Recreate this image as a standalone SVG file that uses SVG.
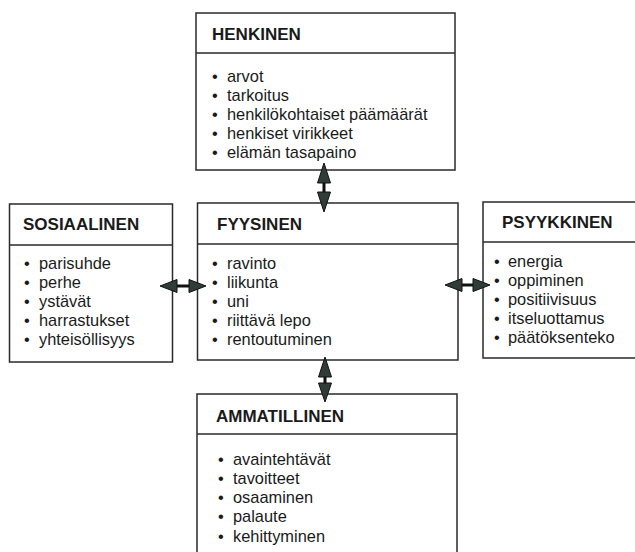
<svg xmlns="http://www.w3.org/2000/svg" width="635" height="552" viewBox="0 0 635 552">
<style>
.box{fill:#fff;stroke:#2a2a2a;stroke-width:1.5}
.sep{stroke:#2a2a2a;stroke-width:1.5}
.t{font-family:"Liberation Sans",Arial,sans-serif;font-size:17px;font-weight:bold;fill:#1a1a1a}
.i{font-family:"Liberation Sans",Arial,sans-serif;font-size:16.4px;fill:#1a1a1a}
.head{fill:#2f3c37;stroke:#111;stroke-width:1}
.shaft{fill:#111}
</style>
<rect width="635" height="552" fill="#fff"/>
<g id="henkinen">
<rect class="box" x="196" y="13" width="259" height="157"/>
<line class="sep" x1="196" y1="53" x2="455" y2="53"/>
<text class="t" x="212" y="40">HENKINEN</text>
<text class="i" x="212" y="82">•<tspan x="227">arvot</tspan></text>
<text class="i" x="212" y="101">•<tspan x="227">tarkoitus</tspan></text>
<text class="i" x="212" y="120">•<tspan x="227">henkilökohtaiset päämäärät</tspan></text>
<text class="i" x="212" y="139">•<tspan x="227">henkiset virikkeet</tspan></text>
<text class="i" x="212" y="158">•<tspan x="227">elämän tasapaino</tspan></text>
</g>
<g id="sosiaalinen">
<rect class="box" x="9.5" y="204" width="163" height="158"/>
<line class="sep" x1="9.5" y1="245" x2="172.5" y2="245"/>
<text class="t" x="23" y="230">SOSIAALINEN</text>
<text class="i" x="24" y="269">•<tspan x="39">parisuhde</tspan></text>
<text class="i" x="24" y="288">•<tspan x="39">perhe</tspan></text>
<text class="i" x="24" y="307">•<tspan x="39">ystävät</tspan></text>
<text class="i" x="24" y="326">•<tspan x="39">harrastukset</tspan></text>
<text class="i" x="24" y="345">•<tspan x="39">yhteisöllisyys</tspan></text>
</g>
<g id="fyysinen">
<rect class="box" x="197.5" y="203" width="260.5" height="157"/>
<line class="sep" x1="197.5" y1="244" x2="458" y2="244"/>
<text class="t" x="217" y="230">FYYSINEN</text>
<text class="i" x="212" y="269">•<tspan x="227">ravinto</tspan></text>
<text class="i" x="212" y="288">•<tspan x="227">liikunta</tspan></text>
<text class="i" x="212" y="307">•<tspan x="227">uni</tspan></text>
<text class="i" x="212" y="326">•<tspan x="227">riittävä lepo</tspan></text>
<text class="i" x="212" y="345">•<tspan x="227">rentoutuminen</tspan></text>
</g>
<g id="psyykkinen">
<rect class="box" x="483" y="202" width="160" height="156"/>
<line class="sep" x1="483" y1="242" x2="643" y2="242"/>
<text class="t" x="502" y="228">PSYYKKINEN</text>
<text class="i" x="494" y="267">•<tspan x="508">energia</tspan></text>
<text class="i" x="494" y="286">•<tspan x="508">oppiminen</tspan></text>
<text class="i" x="494" y="305">•<tspan x="508">positiivisuus</tspan></text>
<text class="i" x="494" y="324">•<tspan x="508">itseluottamus</tspan></text>
<text class="i" x="494" y="343">•<tspan x="508">päätöksenteko</tspan></text>
</g>
<g id="ammatillinen">
<rect class="box" x="197" y="394" width="260" height="170"/>
<line class="sep" x1="197" y1="434" x2="457" y2="434"/>
<text class="t" x="216" y="422">AMMATILLINEN</text>
<text class="i" x="218" y="465">•<tspan x="233">avaintehtävät</tspan></text>
<text class="i" x="218" y="484">•<tspan x="233">tavoitteet</tspan></text>
<text class="i" x="218" y="503">•<tspan x="233">osaaminen</tspan></text>
<text class="i" x="218" y="522">•<tspan x="233">palaute</tspan></text>
<text class="i" x="218" y="542">•<tspan x="233">kehittyminen</tspan></text>
</g>
<g id="connectors">
<rect class="shaft" x="322.5" y="182" width="3" height="11"/>
<polygon class="head" points="324,163 317.5,183 330.5,183"/>
<polygon class="head" points="324,212 317.5,192 330.5,192"/>
<rect class="shaft" x="176" y="284.5" width="14" height="3"/>
<polygon class="head" points="160,286 177,279.5 177,292.5"/>
<polygon class="head" points="206,286 189,279.5 189,292.5"/>
<rect class="shaft" x="461" y="283.5" width="14" height="3"/>
<polygon class="head" points="445,285 462,278.5 462,291.5"/>
<polygon class="head" points="490,285 473,278.5 473,291.5"/>
<rect class="shaft" x="323.5" y="376" width="3" height="8"/>
<polygon class="head" points="325,357 318.5,377 331.5,377"/>
<polygon class="head" points="325,402 318.5,383 331.5,383"/>
</g>
</svg>
